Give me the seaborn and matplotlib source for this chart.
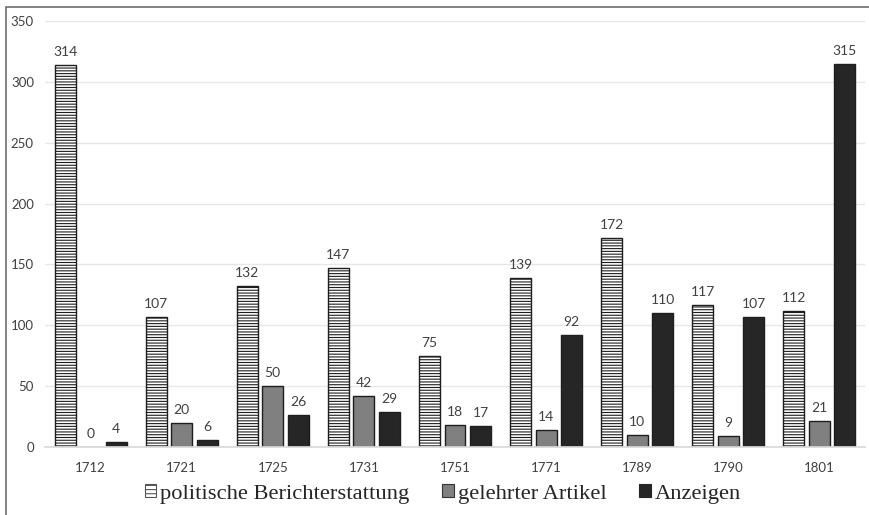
import matplotlib
matplotlib.use("Agg")
import matplotlib.pyplot as plt
from matplotlib.patches import Patch, Rectangle
import pandas as pd
import seaborn as sns

# Zeitungsinhalte nach Jahrgang
jahre = ["1712", "1721", "1725", "1731", "1751", "1771", "1789", "1790", "1801"]
politische = [314, 107, 132, 147, 75, 139, 172, 117, 112]
gelehrter = [0, 20, 50, 42, 18, 14, 10, 9, 21]
anzeigen = [4, 6, 26, 29, 17, 92, 110, 107, 315]
kategorien = ["politische Berichterstattung", "gelehrter Artikel", "Anzeigen"]
y_ticks = [0, 50, 100, 150, 200, 250, 300, 350]

rows = []
for kat, werte in zip(kategorien, [politische, gelehrter, anzeigen]):
    for j, v in zip(jahre, werte):
        rows.append({"Jahr": j, "Anzahl": v, "Kategorie": kat})
df = pd.DataFrame(rows)

sns.set_theme(style="white")
plt.rcParams["font.family"] = ["Lato", "DejaVu Sans"]
plt.rcParams["hatch.linewidth"] = 0.8

fill = {"politische Berichterstattung": "#ffffff",
        "gelehrter Artikel": "#808080",
        "Anzeigen": "#262626"}

fig = plt.figure(figsize=(8.69, 5.15), dpi=100)
ax = fig.add_axes([45 / 869, 1 - 447 / 515, 820 / 869, 426 / 515])

sns.barplot(data=df, x="Jahr", y="Anzahl", hue="Kategorie", order=jahre,
            hue_order=kategorien, palette=fill, saturation=1,
            width=0.84, gap=0.18, ax=ax, legend=False,
            edgecolor="#1e1e1e", linewidth=1.0)

# horizontal hatching for the political reporting bars
for patch in ax.containers[0]:
    patch.set_hatch("------")
    if hasattr(patch, "set_hatchcolor"):
        patch.set_hatchcolor("#8a8a8a")

for cont in ax.containers:
    ax.bar_label(cont, padding=5, fontsize=10, color="#404040")

ax.set_ylim(0, 350)
ax.set_xlim(-0.5, 8.5)
ax.set_yticks(y_ticks)
ax.set_yticklabels([str(t) for t in y_ticks])
ax.yaxis.grid(True, color="#e4e8ee", linewidth=1.0)
ax.set_axisbelow(True)
for s in ["top", "right", "left"]:
    ax.spines[s].set_visible(False)
ax.spines["bottom"].set_color("#d9d9d9")
ax.tick_params(axis="both", length=0, labelsize=9.5, colors="#404040")
ax.tick_params(axis="x", pad=11)
ax.tick_params(axis="y", pad=8)
ax.set_xlabel("")
ax.set_ylabel("")

handles = [
    Patch(facecolor="#ffffff", edgecolor="#555555", hatch="----", linewidth=0.8),
    Patch(facecolor="#808080", edgecolor="#333333", linewidth=0.8),
    Patch(facecolor="#262626", edgecolor="#262626", linewidth=0.8),
]
fig.legend(handles, kategorien, loc="center", bbox_to_anchor=(443 / 869, 1 - 494 / 515),
           ncol=3, frameon=False, handlelength=0.5, handleheight=0.5,
           handletextpad=0.2, columnspacing=1.45,
           prop={"family": "Liberation Serif", "size": 16.2})

# outer frame
fig.patches.append(Rectangle((6 / 869, -0.1), 1.2, 1 - 7 / 515 + 0.1,
                             transform=fig.transFigure, fill=False,
                             edgecolor="#6e6e6e", linewidth=1.2))

fig.savefig("out.png", dpi=100)
